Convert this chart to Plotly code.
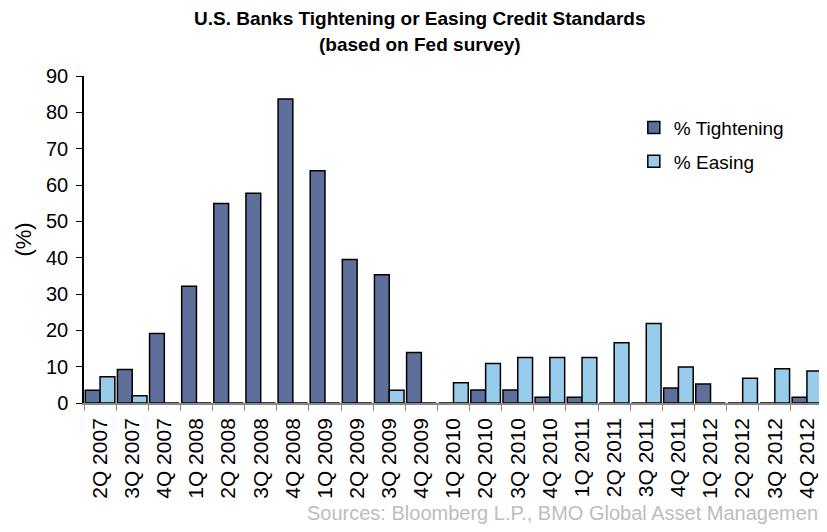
import plotly.graph_objects as go

# Fed senior loan officer survey, share of banks tightening / easing
quarters = ['2Q 2007', '3Q 2007', '4Q 2007', '1Q 2008', '2Q 2008', '3Q 2008',
            '4Q 2008', '1Q 2009', '2Q 2009', '3Q 2009', '4Q 2009', '1Q 2010',
            '2Q 2010', '3Q 2010', '4Q 2010', '1Q 2011', '2Q 2011', '3Q 2011',
            '4Q 2011', '1Q 2012', '2Q 2012', '3Q 2012', '4Q 2012']
tightening = [3.5, 9.2, 19.1, 32.1, 54.9, 57.7, 83.7, 63.9, 39.5, 35.3, 13.9, 0,
              3.6, 3.6, 1.6, 1.6, 0, 0, 4.1, 5.2, 0, 0, 1.6]
easing = [7.2, 2.0, 0, 0, 0, 0, 0, 0, 0, 3.5, 0, 5.6,
          10.9, 12.5, 12.5, 12.5, 16.6, 21.9, 9.9, 0, 6.8, 9.4, 8.8]

FONT = 'Liberation Sans, Arial, sans-serif'

fig = go.Figure()
fig.add_trace(go.Bar(x=quarters, y=tightening, name='% Tightening',
                     legendgroup='t',
                     marker=dict(color='#5E6F9C', line=dict(color='black', width=1.5))))
fig.add_trace(go.Bar(x=quarters, y=easing, name='% Easing',
                     legendgroup='e',
                     marker=dict(color='#99CCEB', line=dict(color='black', width=1.5))))

# page body has an 8px margin, so the figure is a little smaller than the window
fig.update_layout(
    width=819, height=524,
    barmode='group', bargap=0.08, bargroupgap=0,
    plot_bgcolor='white', paper_bgcolor='white',
    font=dict(family=FONT, size=19, color='black'),
    legend=dict(x=0.744, y=0.90, xanchor='left', yanchor='top',
                bgcolor='rgba(0,0,0,0)', tracegroupgap=6,
                font=dict(size=19)),
    margin={'l': 76, 'r': 4, 't': 68, 'b': 129},
    annotations=[
        dict(text='<b>U.S. Banks Tightening or Easing Credit Standards</b>',
             xref='paper', yref='paper', x=(420 - 84) / 739, y=1.1745,
             xanchor='center', yanchor='middle', showarrow=False, font=dict(size=19)),
        dict(text='<b>(based on Fed survey)</b>',
             xref='paper', yref='paper', x=(420 - 84) / 739, y=1.0949,
             xanchor='center', yanchor='middle', showarrow=False, font=dict(size=19)),
        dict(text='Sources: Bloomberg L.P., BMO Global Asset Management',
             xref='paper', yref='paper', x=1.004, y=-0.3376,
             xanchor='right', yanchor='middle', showarrow=False,
             font=dict(size=20, color='#BDBDBD')),
    ],
)

fig.update_xaxes(showline=True, linecolor='#888888', linewidth=1.5,
                 ticks='outside', tickson='boundaries', ticklen=6, tickcolor='#888888',
                 tickangle=-90, showgrid=False, automargin=False,
                 ticklabelstandoff=5, tickfont=dict(size=21))
fig.update_yaxes(range=[0, 90], dtick=10, showline=True, linecolor='black', linewidth=1.5,
                 ticks='outside', ticklen=6, tickcolor='black', showgrid=False, zeroline=False,
                 automargin=False, ticklabelstandoff=4, tickfont=dict(size=20),
                 title=dict(text='(%)', standoff=8, font=dict(size=22)))

fig.write_html("out.html")
